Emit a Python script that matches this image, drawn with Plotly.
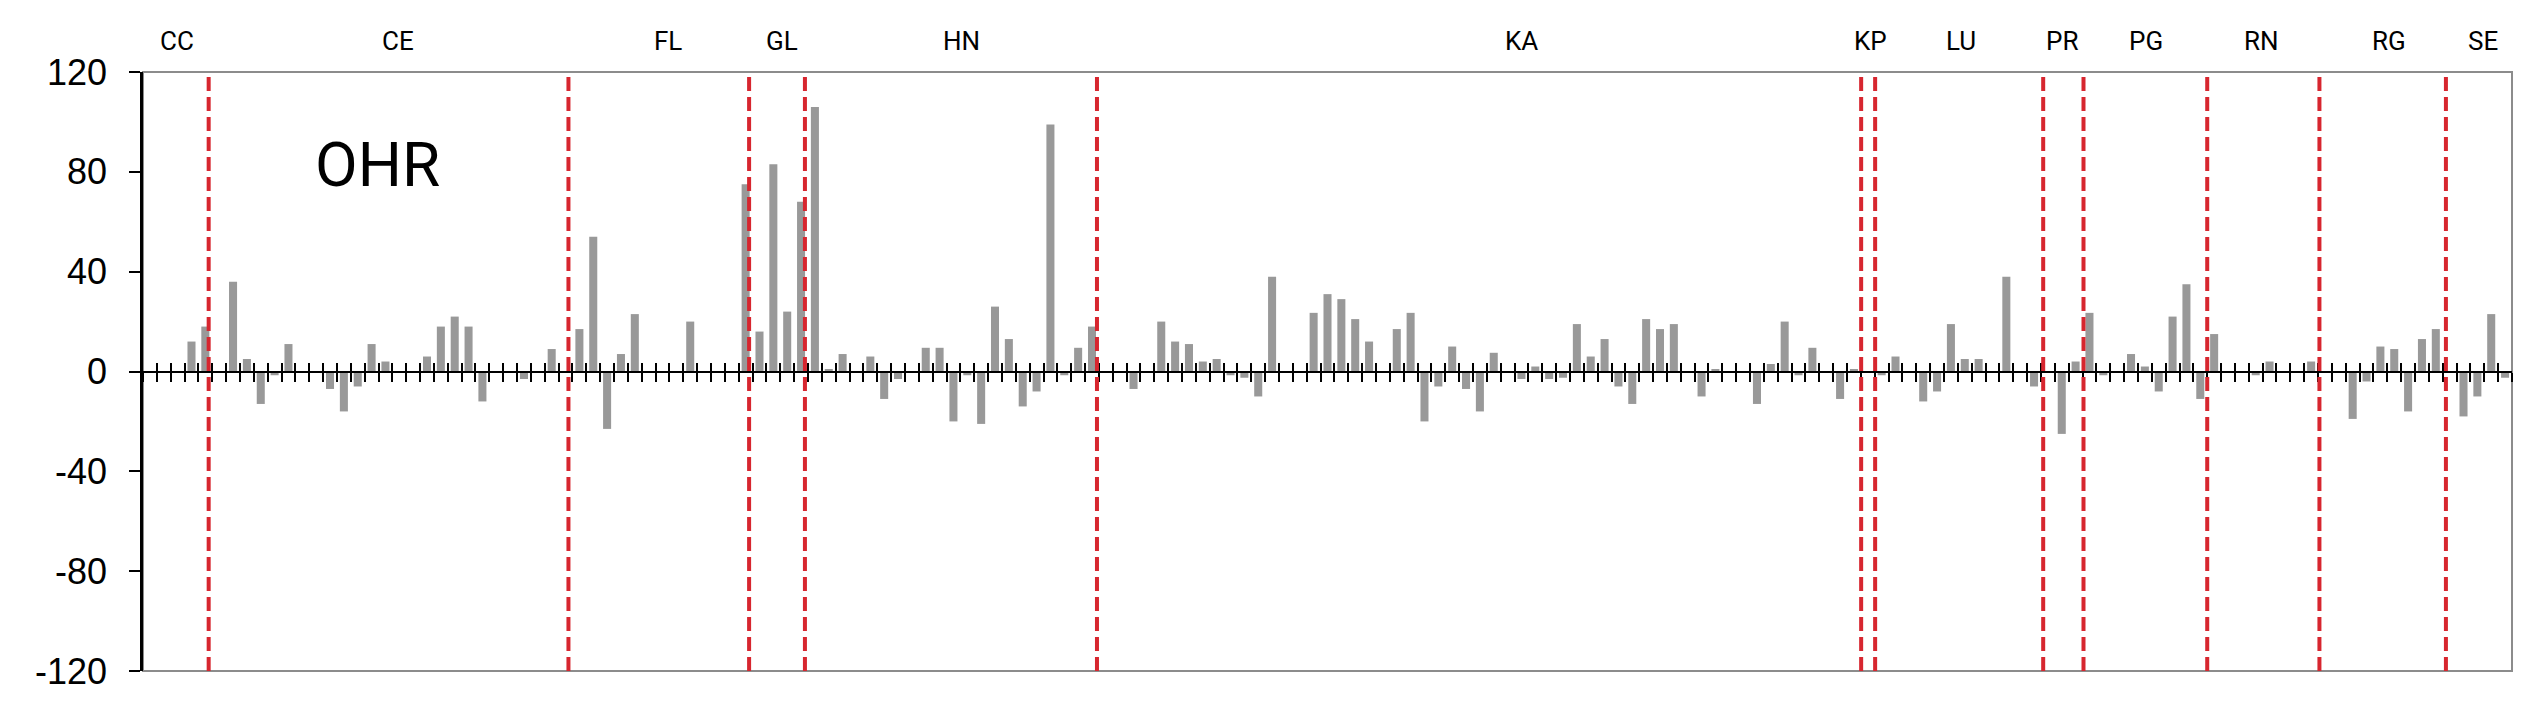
import plotly.graph_objects as go

# OHR values per sample slot
values = [
    0, 0, 0, 12, 18, 0, 36, 5, -13, -1.5,
    11, 0, 0, -7, -16, -6, 11, 4, 0, 0,
    6, 18, 22, 18, -12, 0, 0, -3, 0, 9,
    0, 17, 54, -23, 7, 23, 0, 0, 0, 20,
    0, 0, 0, 75, 16, 83, 24, 68, 106, 1,
    7, 0, 6, -11, -3, 0, 9.5, 9.5, -20, -1.5,
    -21, 26, 13, -14, -8, 99, -1.5, 9.5, 18, 0,
    0, -7, 0, 20, 12, 11, 4, 5, -1.5, -2.5,
    -10, 38, 0, 0, 23.5, 31, 29, 21, 12, 0,
    17, 23.5, -20, -6, 10, -7, -16, 7.5, 0, -3,
    2, -3, -2.5, 19, 6, 13, -6, -13, 21, 17,
    19, 0, -10, 1, 0, 0, -13, 3, 20, -1.5,
    9.5, 0, -11, 1, 0, -1.5, 6, 0, -12, -8,
    19, 5, 5, 0, 38, 0, -6, 0, -25, 4,
    23.5, -1.5, 0, 7, 2, -8, 22, 35, -11, 15,
    0, 0, -1.5, 4, 0, 0, 4, 0, 0, -19,
    -4, 10, 9, -16, 13, 17, 0, -18, -10, 23,
    -2.5,
]
slots = list(range(len(values)))

groups = ["CC", "CE", "FL", "GL", "HN", "KA", "KP", "LU", "PR", "PG", "RN", "RG", "SE"]
group_label_x = [1.98, 17.93, 37.43, 45.6, 58.6, 99.0, 124.2, 130.7, 138.0, 144.1, 152.4, 161.6, 168.4]
group_bounds = [4.24, 30.21, 43.25, 47.28, 68.36, 123.52, 124.53, 136.66, 139.57, 148.5, 156.6, 165.73]
y_ticks = [-120, -80, -40, 0, 40, 80, 120]
y_tick_text = [str(v) for v in y_ticks]

fig = go.Figure()
fig.add_trace(go.Bar(
    x=slots, y=values, marker_color="#999999", marker_line_width=0,
    width=0.58, showlegend=False, hoverinfo="x+y",
))
# invisible companion trace so the second (upward-tick) x axis is drawn
fig.add_trace(go.Scatter(
    x=slots, y=values, xaxis="x2", mode="markers",
    marker=dict(opacity=0), hoverinfo="skip", showlegend=False,
))

xbase = dict(
    range=[-0.5, len(values) - 0.5], showgrid=False, zeroline=False, automargin=False,
    anchor="free", position=0.5, tickmode="linear", tick0=0.5, dtick=1,
    ticklen=9, tickwidth=2, tickcolor="black", showticklabels=False,
)
# page body has an 8px default margin, so the figure is sized 8px smaller
fig.update_layout(
    template="none",
    width=2521, height=710,
    margin=dict(l=135, r=17, t=64, b=47, autoexpand=False),
    paper_bgcolor="white", plot_bgcolor="white",
    bargap=0.42,
    xaxis=dict(**xbase, ticks="outside", showline=True, linecolor="black", linewidth=2),
    xaxis2=dict(**xbase, ticks="inside", overlaying="x", matches="x", side="bottom", showline=False),
    yaxis=dict(
        range=[-120, 120], tickmode="array", tickvals=y_ticks, ticktext=y_tick_text,
        showgrid=False, zeroline=False, automargin=False,
        showline=True, linecolor="black", linewidth=2.5,
        ticks="outside", ticklen=11, tickwidth=2, tickcolor="black",
        tickfont=dict(family="Liberation Sans, Arial", size=36, color="black"),
        ticklabelstandoff=15,
    ),
    showlegend=False,
)

shapes = [dict(type="rect", xref="paper", yref="paper", x0=0, x1=1, y0=0, y1=1,
               line=dict(color="#8c8c8c", width=2), layer="below")]
for b in group_bounds:
    shapes.append(dict(type="line", xref="x", yref="paper", x0=b, x1=b, y0=0, y1=1,
                       line=dict(color="#d7262f", width=4, dash="14px,6px"), layer="above"))
fig.update_layout(shapes=shapes)

annotations = []
for name, gx in zip(groups, group_label_x):
    annotations.append(dict(x=gx, y=1.051, xref="x", yref="paper", text=name, showarrow=False,
                            xanchor="center", yanchor="middle",
                            font=dict(family="Roboto", size=26, color="black")))
annotations.append(dict(x=16.4, y=83, xref="x", yref="y", text="OHR", showarrow=False,
                        xanchor="center", yanchor="middle",
                        font=dict(family="Roboto", size=62, color="black")))
fig.update_layout(annotations=annotations)

fig.write_html("out.html")
